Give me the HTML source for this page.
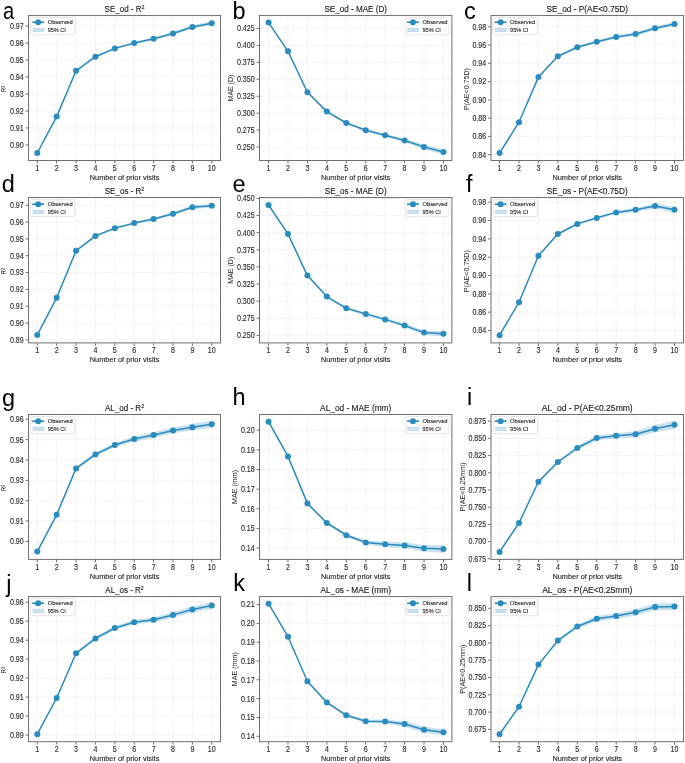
<!DOCTYPE html>
<html><head><meta charset="utf-8"><title>Figure</title><style>
html,body{margin:0;padding:0;background:#fff;}
body{width:685px;height:763px;overflow:hidden;}
svg{display:block;will-change:transform;}
text{font-family:"Liberation Sans",sans-serif;fill:#262626;}
.tk{font-size:7.1px;stroke:#262626;stroke-width:0.1px;}
.ti{font-size:8.1px;fill:#1a1a1a;stroke:#1a1a1a;stroke-width:0.12px;}
.xl{font-size:7.3px;fill:#1a1a1a;stroke:#1a1a1a;stroke-width:0.1px;}
.yl{font-size:7.0px;fill:#222;}
.lg{font-size:5.9px;fill:#111;stroke:#111;stroke-width:0.08px;}
.pl{font-size:23.5px;fill:#000;}
</style></head>
<body>
<svg width="685" height="763" viewBox="0 0 685 763">
<g>
<rect width="685" height="763" fill="#fff"/>
<clipPath id="c0"><rect x="28.55" y="15.55" width="191.95" height="144.95"/></clipPath>
<path d="M37.27 15.55V160.5 M56.66 15.55V160.5 M76.05 15.55V160.5 M95.44 15.55V160.5 M114.83 15.55V160.5 M134.22 15.55V160.5 M153.61 15.55V160.5 M173 15.55V160.5 M192.39 15.55V160.5 M211.77 15.55V160.5 M28.55 144.91H220.5 M28.55 127.93H220.5 M28.55 110.95H220.5 M28.55 93.97H220.5 M28.55 76.99H220.5 M28.55 60.01H220.5 M28.55 43.03H220.5 M28.55 26.05H220.5" stroke="#eeeeee" stroke-width="0.9" stroke-dasharray="2.1 0.8" fill="none" clip-path="url(#c0)"/>
<polygon points="37.27,152.4 56.66,115.8 76.05,70 95.44,55.8 114.83,47.3 134.22,41.9 153.61,37.4 173,32 192.39,25.3 211.77,21.3 211.77,25.1 192.39,28.7 173,35 153.61,40.2 134.22,44.3 114.83,49.5 95.44,57.6 76.05,71.6 56.66,117.4 37.27,153.6" fill="#2a8bbf" fill-opacity="0.25" clip-path="url(#c0)"/>
<polyline points="37.27,153 56.66,116.6 76.05,70.8 95.44,56.7 114.83,48.4 134.22,43.1 153.61,38.8 173,33.5 192.39,27 211.77,23.2" fill="none" stroke="#2a8bbf" stroke-width="1.5" stroke-linejoin="round" stroke-linecap="round"/>
<circle cx="37.27" cy="153" r="3.0" fill="#2a8bbf"/>
<circle cx="56.66" cy="116.6" r="3.0" fill="#2a8bbf"/>
<circle cx="76.05" cy="70.8" r="3.0" fill="#2a8bbf"/>
<circle cx="95.44" cy="56.7" r="3.0" fill="#2a8bbf"/>
<circle cx="114.83" cy="48.4" r="3.0" fill="#2a8bbf"/>
<circle cx="134.22" cy="43.1" r="3.0" fill="#2a8bbf"/>
<circle cx="153.61" cy="38.8" r="3.0" fill="#2a8bbf"/>
<circle cx="173" cy="33.5" r="3.0" fill="#2a8bbf"/>
<circle cx="192.39" cy="27" r="3.0" fill="#2a8bbf"/>
<circle cx="211.77" cy="23.2" r="3.0" fill="#2a8bbf"/>
<rect x="28.55" y="15.55" width="191.95" height="144.95" fill="none" stroke="#6f6f6f" stroke-width="1"/>
<path d="M37.27 161v2.4 M56.66 161v2.4 M76.05 161v2.4 M95.44 161v2.4 M114.83 161v2.4 M134.22 161v2.4 M153.61 161v2.4 M173 161v2.4 M192.39 161v2.4 M211.77 161v2.4 M28.05 144.91h-2.4 M28.05 127.93h-2.4 M28.05 110.95h-2.4 M28.05 93.97h-2.4 M28.05 76.99h-2.4 M28.05 60.01h-2.4 M28.05 43.03h-2.4 M28.05 26.05h-2.4" stroke="#444" stroke-width="0.8" fill="none"/>
<text transform="translate(37.27 170.6) scale(1 1.17)" class="tk" text-anchor="middle">1</text>
<text transform="translate(56.66 170.6) scale(1 1.17)" class="tk" text-anchor="middle">2</text>
<text transform="translate(76.05 170.6) scale(1 1.17)" class="tk" text-anchor="middle">3</text>
<text transform="translate(95.44 170.6) scale(1 1.17)" class="tk" text-anchor="middle">4</text>
<text transform="translate(114.83 170.6) scale(1 1.17)" class="tk" text-anchor="middle">5</text>
<text transform="translate(134.22 170.6) scale(1 1.17)" class="tk" text-anchor="middle">6</text>
<text transform="translate(153.61 170.6) scale(1 1.17)" class="tk" text-anchor="middle">7</text>
<text transform="translate(173 170.6) scale(1 1.17)" class="tk" text-anchor="middle">8</text>
<text transform="translate(192.39 170.6) scale(1 1.17)" class="tk" text-anchor="middle">9</text>
<text transform="translate(211.77 170.6) scale(1 1.17)" class="tk" text-anchor="middle">10</text>
<text transform="translate(23.75 147.76) scale(1 1.17)" class="tk" text-anchor="end">0.90</text>
<text transform="translate(23.75 130.78) scale(1 1.17)" class="tk" text-anchor="end">0.91</text>
<text transform="translate(23.75 113.8) scale(1 1.17)" class="tk" text-anchor="end">0.92</text>
<text transform="translate(23.75 96.82) scale(1 1.17)" class="tk" text-anchor="end">0.93</text>
<text transform="translate(23.75 79.84) scale(1 1.17)" class="tk" text-anchor="end">0.94</text>
<text transform="translate(23.75 62.86) scale(1 1.17)" class="tk" text-anchor="end">0.95</text>
<text transform="translate(23.75 45.88) scale(1 1.17)" class="tk" text-anchor="end">0.96</text>
<text transform="translate(23.75 28.9) scale(1 1.17)" class="tk" text-anchor="end">0.97</text>
<text transform="translate(124.53 11.85) scale(1 1.1)" class="ti" text-anchor="middle" textLength="40" lengthAdjust="spacingAndGlyphs">SE_od - R<tspan font-size="66%" baseline-shift="42%">2</tspan></text>
<text x="124.53" y="179.7" class="xl" text-anchor="middle" textLength="69.6" lengthAdjust="spacingAndGlyphs">Number of prior visits</text>
<rect x="30.65" y="17.65" width="44.3" height="17" rx="1.6" fill="#fff" fill-opacity="1" stroke="#dadada" stroke-width="0.7"/>
<path d="M32.25 22.25H44.05" stroke="#2a8bbf" stroke-width="1.7"/>
<circle cx="38.15" cy="22.25" r="2.95" fill="#2a8bbf"/>
<rect x="32.95" y="28.05" width="10.9" height="3.9" fill="#2a8bbf" fill-opacity="0.25" stroke="#2a8bbf" stroke-opacity="0.25" stroke-width="0.4"/>
<text x="47.65" y="24.35" class="lg" textLength="25.1" lengthAdjust="spacingAndGlyphs">Observed</text>
<text x="47.65" y="32.35" class="lg" textLength="18.2" lengthAdjust="spacingAndGlyphs">95% CI</text>
<clipPath id="c1"><rect x="259.5" y="15.55" width="192.4" height="144.95"/></clipPath>
<path d="M268.55 15.55V160.5 M287.98 15.55V160.5 M307.41 15.55V160.5 M326.85 15.55V160.5 M346.28 15.55V160.5 M365.72 15.55V160.5 M385.15 15.55V160.5 M404.59 15.55V160.5 M424.02 15.55V160.5 M443.45 15.55V160.5 M259.5 147.01H451.9 M259.5 130.08H451.9 M259.5 113.15H451.9 M259.5 96.22H451.9 M259.5 79.29H451.9 M259.5 62.36H451.9 M259.5 45.43H451.9 M259.5 28.5H451.9" stroke="#eeeeee" stroke-width="0.9" stroke-dasharray="2.1 0.8" fill="none" clip-path="url(#c1)"/>
<polygon points="268.55,22 287.98,50.4 307.41,91.4 326.85,110.6 346.28,121.9 365.72,129 385.15,133.8 404.59,138.7 424.02,144.6 443.45,149.2 443.45,154.6 424.02,149.2 404.59,142.3 385.15,136.8 365.72,131.6 346.28,124.1 326.85,112.6 307.41,93.2 287.98,52 268.55,23.2" fill="#2a8bbf" fill-opacity="0.25" clip-path="url(#c1)"/>
<polyline points="268.55,22.6 287.98,51.2 307.41,92.3 326.85,111.6 346.28,123 365.72,130.3 385.15,135.3 404.59,140.5 424.02,146.9 443.45,151.9" fill="none" stroke="#2a8bbf" stroke-width="1.5" stroke-linejoin="round" stroke-linecap="round"/>
<circle cx="268.55" cy="22.6" r="3.0" fill="#2a8bbf"/>
<circle cx="287.98" cy="51.2" r="3.0" fill="#2a8bbf"/>
<circle cx="307.41" cy="92.3" r="3.0" fill="#2a8bbf"/>
<circle cx="326.85" cy="111.6" r="3.0" fill="#2a8bbf"/>
<circle cx="346.28" cy="123" r="3.0" fill="#2a8bbf"/>
<circle cx="365.72" cy="130.3" r="3.0" fill="#2a8bbf"/>
<circle cx="385.15" cy="135.3" r="3.0" fill="#2a8bbf"/>
<circle cx="404.59" cy="140.5" r="3.0" fill="#2a8bbf"/>
<circle cx="424.02" cy="146.9" r="3.0" fill="#2a8bbf"/>
<circle cx="443.45" cy="151.9" r="3.0" fill="#2a8bbf"/>
<rect x="259.5" y="15.55" width="192.4" height="144.95" fill="none" stroke="#6f6f6f" stroke-width="1"/>
<path d="M268.55 161v2.4 M287.98 161v2.4 M307.41 161v2.4 M326.85 161v2.4 M346.28 161v2.4 M365.72 161v2.4 M385.15 161v2.4 M404.59 161v2.4 M424.02 161v2.4 M443.45 161v2.4 M259 147.01h-2.4 M259 130.08h-2.4 M259 113.15h-2.4 M259 96.22h-2.4 M259 79.29h-2.4 M259 62.36h-2.4 M259 45.43h-2.4 M259 28.5h-2.4" stroke="#444" stroke-width="0.8" fill="none"/>
<text transform="translate(268.55 170.6) scale(1 1.17)" class="tk" text-anchor="middle">1</text>
<text transform="translate(287.98 170.6) scale(1 1.17)" class="tk" text-anchor="middle">2</text>
<text transform="translate(307.41 170.6) scale(1 1.17)" class="tk" text-anchor="middle">3</text>
<text transform="translate(326.85 170.6) scale(1 1.17)" class="tk" text-anchor="middle">4</text>
<text transform="translate(346.28 170.6) scale(1 1.17)" class="tk" text-anchor="middle">5</text>
<text transform="translate(365.72 170.6) scale(1 1.17)" class="tk" text-anchor="middle">6</text>
<text transform="translate(385.15 170.6) scale(1 1.17)" class="tk" text-anchor="middle">7</text>
<text transform="translate(404.59 170.6) scale(1 1.17)" class="tk" text-anchor="middle">8</text>
<text transform="translate(424.02 170.6) scale(1 1.17)" class="tk" text-anchor="middle">9</text>
<text transform="translate(443.45 170.6) scale(1 1.17)" class="tk" text-anchor="middle">10</text>
<text transform="translate(254.7 149.86) scale(1 1.17)" class="tk" text-anchor="end">0.250</text>
<text transform="translate(254.7 132.93) scale(1 1.17)" class="tk" text-anchor="end">0.275</text>
<text transform="translate(254.7 116) scale(1 1.17)" class="tk" text-anchor="end">0.300</text>
<text transform="translate(254.7 99.07) scale(1 1.17)" class="tk" text-anchor="end">0.325</text>
<text transform="translate(254.7 82.14) scale(1 1.17)" class="tk" text-anchor="end">0.350</text>
<text transform="translate(254.7 65.21) scale(1 1.17)" class="tk" text-anchor="end">0.375</text>
<text transform="translate(254.7 48.28) scale(1 1.17)" class="tk" text-anchor="end">0.400</text>
<text transform="translate(254.7 31.35) scale(1 1.17)" class="tk" text-anchor="end">0.425</text>
<text transform="translate(355.7 11.85) scale(1 1.1)" class="ti" text-anchor="middle" textLength="62.6" lengthAdjust="spacingAndGlyphs">SE_od - MAE (D)</text>
<text x="355.7" y="179.7" class="xl" text-anchor="middle" textLength="69.6" lengthAdjust="spacingAndGlyphs">Number of prior visits</text>
<rect x="406.1" y="17.65" width="43.1" height="17" rx="1.6" fill="#fff" fill-opacity="1" stroke="#dadada" stroke-width="0.7"/>
<path d="M407.1 22.25H418.9" stroke="#2a8bbf" stroke-width="1.7"/>
<circle cx="413" cy="22.25" r="2.95" fill="#2a8bbf"/>
<rect x="407.8" y="28.05" width="10.9" height="3.9" fill="#2a8bbf" fill-opacity="0.25" stroke="#2a8bbf" stroke-opacity="0.25" stroke-width="0.4"/>
<text x="422.5" y="24.35" class="lg" textLength="25.1" lengthAdjust="spacingAndGlyphs">Observed</text>
<text x="422.5" y="32.35" class="lg" textLength="18.2" lengthAdjust="spacingAndGlyphs">95% CI</text>
<clipPath id="c2"><rect x="491" y="15.55" width="192.45" height="144.95"/></clipPath>
<path d="M499.55 15.55V160.5 M518.99 15.55V160.5 M538.43 15.55V160.5 M557.87 15.55V160.5 M577.31 15.55V160.5 M596.74 15.55V160.5 M616.18 15.55V160.5 M635.62 15.55V160.5 M655.06 15.55V160.5 M674.5 15.55V160.5 M491 154.69H683.45 M491 136.42H683.45 M491 118.15H683.45 M491 99.88H683.45 M491 81.61H683.45 M491 63.34H683.45 M491 45.07H683.45 M491 26.8H683.45" stroke="#eeeeee" stroke-width="0.9" stroke-dasharray="2.1 0.8" fill="none" clip-path="url(#c2)"/>
<polygon points="499.55,152.5 518.99,121.4 538.43,76.2 557.87,55.2 577.31,46.1 596.74,40.4 616.18,35.3 635.62,32.1 655.06,26.3 674.5,21.9 674.5,25.9 655.06,30.1 635.62,35.9 616.18,38.5 596.74,43.2 577.31,48.5 557.87,57.2 538.43,78 518.99,123 499.55,153.7" fill="#2a8bbf" fill-opacity="0.25" clip-path="url(#c2)"/>
<polyline points="499.55,153.1 518.99,122.2 538.43,77.1 557.87,56.2 577.31,47.3 596.74,41.8 616.18,36.9 635.62,34 655.06,28.2 674.5,23.9" fill="none" stroke="#2a8bbf" stroke-width="1.5" stroke-linejoin="round" stroke-linecap="round"/>
<circle cx="499.55" cy="153.1" r="3.0" fill="#2a8bbf"/>
<circle cx="518.99" cy="122.2" r="3.0" fill="#2a8bbf"/>
<circle cx="538.43" cy="77.1" r="3.0" fill="#2a8bbf"/>
<circle cx="557.87" cy="56.2" r="3.0" fill="#2a8bbf"/>
<circle cx="577.31" cy="47.3" r="3.0" fill="#2a8bbf"/>
<circle cx="596.74" cy="41.8" r="3.0" fill="#2a8bbf"/>
<circle cx="616.18" cy="36.9" r="3.0" fill="#2a8bbf"/>
<circle cx="635.62" cy="34" r="3.0" fill="#2a8bbf"/>
<circle cx="655.06" cy="28.2" r="3.0" fill="#2a8bbf"/>
<circle cx="674.5" cy="23.9" r="3.0" fill="#2a8bbf"/>
<rect x="491" y="15.55" width="192.45" height="144.95" fill="none" stroke="#6f6f6f" stroke-width="1"/>
<path d="M499.55 161v2.4 M518.99 161v2.4 M538.43 161v2.4 M557.87 161v2.4 M577.31 161v2.4 M596.74 161v2.4 M616.18 161v2.4 M635.62 161v2.4 M655.06 161v2.4 M674.5 161v2.4 M490.5 154.69h-2.4 M490.5 136.42h-2.4 M490.5 118.15h-2.4 M490.5 99.88h-2.4 M490.5 81.61h-2.4 M490.5 63.34h-2.4 M490.5 45.07h-2.4 M490.5 26.8h-2.4" stroke="#444" stroke-width="0.8" fill="none"/>
<text transform="translate(499.55 170.6) scale(1 1.17)" class="tk" text-anchor="middle">1</text>
<text transform="translate(518.99 170.6) scale(1 1.17)" class="tk" text-anchor="middle">2</text>
<text transform="translate(538.43 170.6) scale(1 1.17)" class="tk" text-anchor="middle">3</text>
<text transform="translate(557.87 170.6) scale(1 1.17)" class="tk" text-anchor="middle">4</text>
<text transform="translate(577.31 170.6) scale(1 1.17)" class="tk" text-anchor="middle">5</text>
<text transform="translate(596.74 170.6) scale(1 1.17)" class="tk" text-anchor="middle">6</text>
<text transform="translate(616.18 170.6) scale(1 1.17)" class="tk" text-anchor="middle">7</text>
<text transform="translate(635.62 170.6) scale(1 1.17)" class="tk" text-anchor="middle">8</text>
<text transform="translate(655.06 170.6) scale(1 1.17)" class="tk" text-anchor="middle">9</text>
<text transform="translate(674.5 170.6) scale(1 1.17)" class="tk" text-anchor="middle">10</text>
<text transform="translate(486.2 157.54) scale(1 1.17)" class="tk" text-anchor="end">0.84</text>
<text transform="translate(486.2 139.27) scale(1 1.17)" class="tk" text-anchor="end">0.86</text>
<text transform="translate(486.2 121) scale(1 1.17)" class="tk" text-anchor="end">0.88</text>
<text transform="translate(486.2 102.73) scale(1 1.17)" class="tk" text-anchor="end">0.90</text>
<text transform="translate(486.2 84.46) scale(1 1.17)" class="tk" text-anchor="end">0.92</text>
<text transform="translate(486.2 66.19) scale(1 1.17)" class="tk" text-anchor="end">0.94</text>
<text transform="translate(486.2 47.92) scale(1 1.17)" class="tk" text-anchor="end">0.96</text>
<text transform="translate(486.2 29.65) scale(1 1.17)" class="tk" text-anchor="end">0.98</text>
<text transform="translate(587.23 11.85) scale(1 1.1)" class="ti" text-anchor="middle" textLength="81.6" lengthAdjust="spacingAndGlyphs">SE_od - P(AE&lt;0.75D)</text>
<text x="587.23" y="179.7" class="xl" text-anchor="middle" textLength="69.6" lengthAdjust="spacingAndGlyphs">Number of prior visits</text>
<rect x="493.1" y="17.65" width="44.3" height="17" rx="1.6" fill="#fff" fill-opacity="1" stroke="#dadada" stroke-width="0.7"/>
<path d="M494.7 22.25H506.5" stroke="#2a8bbf" stroke-width="1.7"/>
<circle cx="500.6" cy="22.25" r="2.95" fill="#2a8bbf"/>
<rect x="495.4" y="28.05" width="10.9" height="3.9" fill="#2a8bbf" fill-opacity="0.25" stroke="#2a8bbf" stroke-opacity="0.25" stroke-width="0.4"/>
<text x="510.1" y="24.35" class="lg" textLength="25.1" lengthAdjust="spacingAndGlyphs">Observed</text>
<text x="510.1" y="32.35" class="lg" textLength="18.2" lengthAdjust="spacingAndGlyphs">95% CI</text>
<clipPath id="c3"><rect x="28.55" y="197.52" width="191.95" height="145.38"/></clipPath>
<path d="M37.27 197.52V342.9 M56.66 197.52V342.9 M76.05 197.52V342.9 M95.44 197.52V342.9 M114.83 197.52V342.9 M134.22 197.52V342.9 M153.61 197.52V342.9 M173 197.52V342.9 M192.39 197.52V342.9 M211.77 197.52V342.9 M28.55 339.78H220.5 M28.55 322.97H220.5 M28.55 306.16H220.5 M28.55 289.35H220.5 M28.55 272.54H220.5 M28.55 255.73H220.5 M28.55 238.92H220.5 M28.55 222.11H220.5 M28.55 205.3H220.5" stroke="#eeeeee" stroke-width="0.9" stroke-dasharray="2.1 0.8" fill="none" clip-path="url(#c3)"/>
<polygon points="37.27,334.3 56.66,297 76.05,250 95.44,234.9 114.83,227.3 134.22,221.9 153.61,217.7 173,212.2 192.39,205.6 211.77,203.9 211.77,207.7 192.39,209 173,215.2 153.61,220.3 134.22,224.3 114.83,229.3 95.44,236.9 76.05,251.6 56.66,298.6 37.27,335.5" fill="#2a8bbf" fill-opacity="0.25" clip-path="url(#c3)"/>
<polyline points="37.27,334.9 56.66,297.8 76.05,250.8 95.44,235.9 114.83,228.3 134.22,223.1 153.61,219 173,213.7 192.39,207.3 211.77,205.8" fill="none" stroke="#2a8bbf" stroke-width="1.5" stroke-linejoin="round" stroke-linecap="round"/>
<circle cx="37.27" cy="334.9" r="3.0" fill="#2a8bbf"/>
<circle cx="56.66" cy="297.8" r="3.0" fill="#2a8bbf"/>
<circle cx="76.05" cy="250.8" r="3.0" fill="#2a8bbf"/>
<circle cx="95.44" cy="235.9" r="3.0" fill="#2a8bbf"/>
<circle cx="114.83" cy="228.3" r="3.0" fill="#2a8bbf"/>
<circle cx="134.22" cy="223.1" r="3.0" fill="#2a8bbf"/>
<circle cx="153.61" cy="219" r="3.0" fill="#2a8bbf"/>
<circle cx="173" cy="213.7" r="3.0" fill="#2a8bbf"/>
<circle cx="192.39" cy="207.3" r="3.0" fill="#2a8bbf"/>
<circle cx="211.77" cy="205.8" r="3.0" fill="#2a8bbf"/>
<rect x="28.55" y="197.52" width="191.95" height="145.38" fill="none" stroke="#6f6f6f" stroke-width="1"/>
<path d="M37.27 343.4v2.4 M56.66 343.4v2.4 M76.05 343.4v2.4 M95.44 343.4v2.4 M114.83 343.4v2.4 M134.22 343.4v2.4 M153.61 343.4v2.4 M173 343.4v2.4 M192.39 343.4v2.4 M211.77 343.4v2.4 M28.05 339.78h-2.4 M28.05 322.97h-2.4 M28.05 306.16h-2.4 M28.05 289.35h-2.4 M28.05 272.54h-2.4 M28.05 255.73h-2.4 M28.05 238.92h-2.4 M28.05 222.11h-2.4 M28.05 205.3h-2.4" stroke="#444" stroke-width="0.8" fill="none"/>
<text transform="translate(37.27 353) scale(1 1.17)" class="tk" text-anchor="middle">1</text>
<text transform="translate(56.66 353) scale(1 1.17)" class="tk" text-anchor="middle">2</text>
<text transform="translate(76.05 353) scale(1 1.17)" class="tk" text-anchor="middle">3</text>
<text transform="translate(95.44 353) scale(1 1.17)" class="tk" text-anchor="middle">4</text>
<text transform="translate(114.83 353) scale(1 1.17)" class="tk" text-anchor="middle">5</text>
<text transform="translate(134.22 353) scale(1 1.17)" class="tk" text-anchor="middle">6</text>
<text transform="translate(153.61 353) scale(1 1.17)" class="tk" text-anchor="middle">7</text>
<text transform="translate(173 353) scale(1 1.17)" class="tk" text-anchor="middle">8</text>
<text transform="translate(192.39 353) scale(1 1.17)" class="tk" text-anchor="middle">9</text>
<text transform="translate(211.77 353) scale(1 1.17)" class="tk" text-anchor="middle">10</text>
<text transform="translate(23.75 342.63) scale(1 1.17)" class="tk" text-anchor="end">0.89</text>
<text transform="translate(23.75 325.82) scale(1 1.17)" class="tk" text-anchor="end">0.90</text>
<text transform="translate(23.75 309.01) scale(1 1.17)" class="tk" text-anchor="end">0.91</text>
<text transform="translate(23.75 292.2) scale(1 1.17)" class="tk" text-anchor="end">0.92</text>
<text transform="translate(23.75 275.39) scale(1 1.17)" class="tk" text-anchor="end">0.93</text>
<text transform="translate(23.75 258.58) scale(1 1.17)" class="tk" text-anchor="end">0.94</text>
<text transform="translate(23.75 241.77) scale(1 1.17)" class="tk" text-anchor="end">0.95</text>
<text transform="translate(23.75 224.96) scale(1 1.17)" class="tk" text-anchor="end">0.96</text>
<text transform="translate(23.75 208.15) scale(1 1.17)" class="tk" text-anchor="end">0.97</text>
<text transform="translate(124.53 193.82) scale(1 1.1)" class="ti" text-anchor="middle" textLength="39.6" lengthAdjust="spacingAndGlyphs">SE_os - R<tspan font-size="66%" baseline-shift="42%">2</tspan></text>
<text x="124.53" y="362.1" class="xl" text-anchor="middle" textLength="69.6" lengthAdjust="spacingAndGlyphs">Number of prior visits</text>
<rect x="30.65" y="199.62" width="44.3" height="17" rx="1.6" fill="#fff" fill-opacity="1" stroke="#dadada" stroke-width="0.7"/>
<path d="M32.25 204.22H44.05" stroke="#2a8bbf" stroke-width="1.7"/>
<circle cx="38.15" cy="204.22" r="2.95" fill="#2a8bbf"/>
<rect x="32.95" y="210.02" width="10.9" height="3.9" fill="#2a8bbf" fill-opacity="0.25" stroke="#2a8bbf" stroke-opacity="0.25" stroke-width="0.4"/>
<text x="47.65" y="206.32" class="lg" textLength="25.1" lengthAdjust="spacingAndGlyphs">Observed</text>
<text x="47.65" y="214.32" class="lg" textLength="18.2" lengthAdjust="spacingAndGlyphs">95% CI</text>
<clipPath id="c4"><rect x="259.5" y="197.52" width="192.4" height="145.38"/></clipPath>
<path d="M268.55 197.52V342.9 M287.98 197.52V342.9 M307.41 197.52V342.9 M326.85 197.52V342.9 M346.28 197.52V342.9 M365.72 197.52V342.9 M385.15 197.52V342.9 M404.59 197.52V342.9 M424.02 197.52V342.9 M443.45 197.52V342.9 M259.5 335.4H451.9 M259.5 318.27H451.9 M259.5 301.15H451.9 M259.5 284.02H451.9 M259.5 266.9H451.9 M259.5 249.78H451.9 M259.5 232.65H451.9 M259.5 215.53H451.9 M259.5 198.4H451.9" stroke="#eeeeee" stroke-width="0.9" stroke-dasharray="2.1 0.8" fill="none" clip-path="url(#c4)"/>
<polygon points="268.55,204.4 287.98,233.1 307.41,274.6 326.85,295.5 346.28,307 365.72,312.4 385.15,317.7 404.59,323.6 424.02,330.3 443.45,331.2 443.45,336.2 424.02,334.9 404.59,327.6 385.15,321.1 365.72,315.4 346.28,309.6 326.85,297.7 307.41,276.6 287.98,234.7 268.55,205.6" fill="#2a8bbf" fill-opacity="0.25" clip-path="url(#c4)"/>
<polyline points="268.55,205 287.98,233.9 307.41,275.6 326.85,296.6 346.28,308.3 365.72,313.9 385.15,319.4 404.59,325.6 424.02,332.6 443.45,333.7" fill="none" stroke="#2a8bbf" stroke-width="1.5" stroke-linejoin="round" stroke-linecap="round"/>
<circle cx="268.55" cy="205" r="3.0" fill="#2a8bbf"/>
<circle cx="287.98" cy="233.9" r="3.0" fill="#2a8bbf"/>
<circle cx="307.41" cy="275.6" r="3.0" fill="#2a8bbf"/>
<circle cx="326.85" cy="296.6" r="3.0" fill="#2a8bbf"/>
<circle cx="346.28" cy="308.3" r="3.0" fill="#2a8bbf"/>
<circle cx="365.72" cy="313.9" r="3.0" fill="#2a8bbf"/>
<circle cx="385.15" cy="319.4" r="3.0" fill="#2a8bbf"/>
<circle cx="404.59" cy="325.6" r="3.0" fill="#2a8bbf"/>
<circle cx="424.02" cy="332.6" r="3.0" fill="#2a8bbf"/>
<circle cx="443.45" cy="333.7" r="3.0" fill="#2a8bbf"/>
<rect x="259.5" y="197.52" width="192.4" height="145.38" fill="none" stroke="#6f6f6f" stroke-width="1"/>
<path d="M268.55 343.4v2.4 M287.98 343.4v2.4 M307.41 343.4v2.4 M326.85 343.4v2.4 M346.28 343.4v2.4 M365.72 343.4v2.4 M385.15 343.4v2.4 M404.59 343.4v2.4 M424.02 343.4v2.4 M443.45 343.4v2.4 M259 335.4h-2.4 M259 318.27h-2.4 M259 301.15h-2.4 M259 284.02h-2.4 M259 266.9h-2.4 M259 249.78h-2.4 M259 232.65h-2.4 M259 215.53h-2.4 M259 198.4h-2.4" stroke="#444" stroke-width="0.8" fill="none"/>
<text transform="translate(268.55 353) scale(1 1.17)" class="tk" text-anchor="middle">1</text>
<text transform="translate(287.98 353) scale(1 1.17)" class="tk" text-anchor="middle">2</text>
<text transform="translate(307.41 353) scale(1 1.17)" class="tk" text-anchor="middle">3</text>
<text transform="translate(326.85 353) scale(1 1.17)" class="tk" text-anchor="middle">4</text>
<text transform="translate(346.28 353) scale(1 1.17)" class="tk" text-anchor="middle">5</text>
<text transform="translate(365.72 353) scale(1 1.17)" class="tk" text-anchor="middle">6</text>
<text transform="translate(385.15 353) scale(1 1.17)" class="tk" text-anchor="middle">7</text>
<text transform="translate(404.59 353) scale(1 1.17)" class="tk" text-anchor="middle">8</text>
<text transform="translate(424.02 353) scale(1 1.17)" class="tk" text-anchor="middle">9</text>
<text transform="translate(443.45 353) scale(1 1.17)" class="tk" text-anchor="middle">10</text>
<text transform="translate(254.7 338.25) scale(1 1.17)" class="tk" text-anchor="end">0.250</text>
<text transform="translate(254.7 321.12) scale(1 1.17)" class="tk" text-anchor="end">0.275</text>
<text transform="translate(254.7 304) scale(1 1.17)" class="tk" text-anchor="end">0.300</text>
<text transform="translate(254.7 286.88) scale(1 1.17)" class="tk" text-anchor="end">0.325</text>
<text transform="translate(254.7 269.75) scale(1 1.17)" class="tk" text-anchor="end">0.350</text>
<text transform="translate(254.7 252.62) scale(1 1.17)" class="tk" text-anchor="end">0.375</text>
<text transform="translate(254.7 235.5) scale(1 1.17)" class="tk" text-anchor="end">0.400</text>
<text transform="translate(254.7 218.38) scale(1 1.17)" class="tk" text-anchor="end">0.425</text>
<text transform="translate(254.7 201.25) scale(1 1.17)" class="tk" text-anchor="end">0.450</text>
<text transform="translate(355.7 193.82) scale(1 1.1)" class="ti" text-anchor="middle" textLength="61.8" lengthAdjust="spacingAndGlyphs">SE_os - MAE (D)</text>
<text x="355.7" y="362.1" class="xl" text-anchor="middle" textLength="69.6" lengthAdjust="spacingAndGlyphs">Number of prior visits</text>
<rect x="406.1" y="199.62" width="43.1" height="17" rx="1.6" fill="#fff" fill-opacity="1" stroke="#dadada" stroke-width="0.7"/>
<path d="M407.1 204.22H418.9" stroke="#2a8bbf" stroke-width="1.7"/>
<circle cx="413" cy="204.22" r="2.95" fill="#2a8bbf"/>
<rect x="407.8" y="210.02" width="10.9" height="3.9" fill="#2a8bbf" fill-opacity="0.25" stroke="#2a8bbf" stroke-opacity="0.25" stroke-width="0.4"/>
<text x="422.5" y="206.32" class="lg" textLength="25.1" lengthAdjust="spacingAndGlyphs">Observed</text>
<text x="422.5" y="214.32" class="lg" textLength="18.2" lengthAdjust="spacingAndGlyphs">95% CI</text>
<clipPath id="c5"><rect x="491" y="197.52" width="192.45" height="145.38"/></clipPath>
<path d="M499.55 197.52V342.9 M518.99 197.52V342.9 M538.43 197.52V342.9 M557.87 197.52V342.9 M577.31 197.52V342.9 M596.74 197.52V342.9 M616.18 197.52V342.9 M635.62 197.52V342.9 M655.06 197.52V342.9 M674.5 197.52V342.9 M491 330.51H683.45 M491 312.18H683.45 M491 293.85H683.45 M491 275.52H683.45 M491 257.19H683.45 M491 238.86H683.45 M491 220.53H683.45 M491 202.2H683.45" stroke="#eeeeee" stroke-width="0.9" stroke-dasharray="2.1 0.8" fill="none" clip-path="url(#c5)"/>
<polygon points="499.55,334.6 518.99,301.5 538.43,254.8 557.87,233 577.31,222.7 596.74,216.5 616.18,210.8 635.62,207.9 655.06,203.4 674.5,206.8 674.5,212.8 655.06,208.6 635.62,211.7 616.18,214 596.74,219.3 577.31,225.1 557.87,235 538.43,256.6 518.99,303.1 499.55,335.8" fill="#2a8bbf" fill-opacity="0.25" clip-path="url(#c5)"/>
<polyline points="499.55,335.2 518.99,302.3 538.43,255.7 557.87,234 577.31,223.9 596.74,217.9 616.18,212.4 635.62,209.8 655.06,206 674.5,209.8" fill="none" stroke="#2a8bbf" stroke-width="1.5" stroke-linejoin="round" stroke-linecap="round"/>
<circle cx="499.55" cy="335.2" r="3.0" fill="#2a8bbf"/>
<circle cx="518.99" cy="302.3" r="3.0" fill="#2a8bbf"/>
<circle cx="538.43" cy="255.7" r="3.0" fill="#2a8bbf"/>
<circle cx="557.87" cy="234" r="3.0" fill="#2a8bbf"/>
<circle cx="577.31" cy="223.9" r="3.0" fill="#2a8bbf"/>
<circle cx="596.74" cy="217.9" r="3.0" fill="#2a8bbf"/>
<circle cx="616.18" cy="212.4" r="3.0" fill="#2a8bbf"/>
<circle cx="635.62" cy="209.8" r="3.0" fill="#2a8bbf"/>
<circle cx="655.06" cy="206" r="3.0" fill="#2a8bbf"/>
<circle cx="674.5" cy="209.8" r="3.0" fill="#2a8bbf"/>
<rect x="491" y="197.52" width="192.45" height="145.38" fill="none" stroke="#6f6f6f" stroke-width="1"/>
<path d="M499.55 343.4v2.4 M518.99 343.4v2.4 M538.43 343.4v2.4 M557.87 343.4v2.4 M577.31 343.4v2.4 M596.74 343.4v2.4 M616.18 343.4v2.4 M635.62 343.4v2.4 M655.06 343.4v2.4 M674.5 343.4v2.4 M490.5 330.51h-2.4 M490.5 312.18h-2.4 M490.5 293.85h-2.4 M490.5 275.52h-2.4 M490.5 257.19h-2.4 M490.5 238.86h-2.4 M490.5 220.53h-2.4 M490.5 202.2h-2.4" stroke="#444" stroke-width="0.8" fill="none"/>
<text transform="translate(499.55 353) scale(1 1.17)" class="tk" text-anchor="middle">1</text>
<text transform="translate(518.99 353) scale(1 1.17)" class="tk" text-anchor="middle">2</text>
<text transform="translate(538.43 353) scale(1 1.17)" class="tk" text-anchor="middle">3</text>
<text transform="translate(557.87 353) scale(1 1.17)" class="tk" text-anchor="middle">4</text>
<text transform="translate(577.31 353) scale(1 1.17)" class="tk" text-anchor="middle">5</text>
<text transform="translate(596.74 353) scale(1 1.17)" class="tk" text-anchor="middle">6</text>
<text transform="translate(616.18 353) scale(1 1.17)" class="tk" text-anchor="middle">7</text>
<text transform="translate(635.62 353) scale(1 1.17)" class="tk" text-anchor="middle">8</text>
<text transform="translate(655.06 353) scale(1 1.17)" class="tk" text-anchor="middle">9</text>
<text transform="translate(674.5 353) scale(1 1.17)" class="tk" text-anchor="middle">10</text>
<text transform="translate(486.2 333.36) scale(1 1.17)" class="tk" text-anchor="end">0.84</text>
<text transform="translate(486.2 315.03) scale(1 1.17)" class="tk" text-anchor="end">0.86</text>
<text transform="translate(486.2 296.7) scale(1 1.17)" class="tk" text-anchor="end">0.88</text>
<text transform="translate(486.2 278.37) scale(1 1.17)" class="tk" text-anchor="end">0.90</text>
<text transform="translate(486.2 260.04) scale(1 1.17)" class="tk" text-anchor="end">0.92</text>
<text transform="translate(486.2 241.71) scale(1 1.17)" class="tk" text-anchor="end">0.94</text>
<text transform="translate(486.2 223.38) scale(1 1.17)" class="tk" text-anchor="end">0.96</text>
<text transform="translate(486.2 205.05) scale(1 1.17)" class="tk" text-anchor="end">0.98</text>
<text transform="translate(587.23 193.82) scale(1 1.1)" class="ti" text-anchor="middle" textLength="80.8" lengthAdjust="spacingAndGlyphs">SE_os - P(AE&lt;0.75D)</text>
<text x="587.23" y="362.1" class="xl" text-anchor="middle" textLength="69.6" lengthAdjust="spacingAndGlyphs">Number of prior visits</text>
<rect x="493.1" y="199.62" width="44.3" height="17" rx="1.6" fill="#fff" fill-opacity="1" stroke="#dadada" stroke-width="0.7"/>
<path d="M494.7 204.22H506.5" stroke="#2a8bbf" stroke-width="1.7"/>
<circle cx="500.6" cy="204.22" r="2.95" fill="#2a8bbf"/>
<rect x="495.4" y="210.02" width="10.9" height="3.9" fill="#2a8bbf" fill-opacity="0.25" stroke="#2a8bbf" stroke-opacity="0.25" stroke-width="0.4"/>
<text x="510.1" y="206.32" class="lg" textLength="25.1" lengthAdjust="spacingAndGlyphs">Observed</text>
<text x="510.1" y="214.32" class="lg" textLength="18.2" lengthAdjust="spacingAndGlyphs">95% CI</text>
<clipPath id="c6"><rect x="28.55" y="414.48" width="191.95" height="144.92"/></clipPath>
<path d="M37.27 414.48V559.4 M56.66 414.48V559.4 M76.05 414.48V559.4 M95.44 414.48V559.4 M114.83 414.48V559.4 M134.22 414.48V559.4 M153.61 414.48V559.4 M173 414.48V559.4 M192.39 414.48V559.4 M211.77 414.48V559.4 M28.55 541.4H220.5 M28.55 521.05H220.5 M28.55 500.7H220.5 M28.55 480.35H220.5 M28.55 460H220.5 M28.55 439.65H220.5 M28.55 419.3H220.5" stroke="#eeeeee" stroke-width="0.9" stroke-dasharray="2.1 0.8" fill="none" clip-path="url(#c6)"/>
<polygon points="37.27,550.8 56.66,513.8 76.05,467.1 95.44,452.6 114.83,442.7 134.22,436.5 153.61,432 173,427.5 192.39,423.8 211.77,420.5 211.77,428.1 192.39,430.6 173,433.3 153.61,438 134.22,441.5 114.83,447.3 95.44,456.2 76.05,469.7 56.66,515.8 37.27,552.4" fill="#2a8bbf" fill-opacity="0.25" clip-path="url(#c6)"/>
<polyline points="37.27,551.6 56.66,514.8 76.05,468.4 95.44,454.4 114.83,445 134.22,439 153.61,435 173,430.4 192.39,427.2 211.77,424.3" fill="none" stroke="#2a8bbf" stroke-width="1.5" stroke-linejoin="round" stroke-linecap="round"/>
<circle cx="37.27" cy="551.6" r="3.0" fill="#2a8bbf"/>
<circle cx="56.66" cy="514.8" r="3.0" fill="#2a8bbf"/>
<circle cx="76.05" cy="468.4" r="3.0" fill="#2a8bbf"/>
<circle cx="95.44" cy="454.4" r="3.0" fill="#2a8bbf"/>
<circle cx="114.83" cy="445" r="3.0" fill="#2a8bbf"/>
<circle cx="134.22" cy="439" r="3.0" fill="#2a8bbf"/>
<circle cx="153.61" cy="435" r="3.0" fill="#2a8bbf"/>
<circle cx="173" cy="430.4" r="3.0" fill="#2a8bbf"/>
<circle cx="192.39" cy="427.2" r="3.0" fill="#2a8bbf"/>
<circle cx="211.77" cy="424.3" r="3.0" fill="#2a8bbf"/>
<rect x="28.55" y="414.48" width="191.95" height="144.92" fill="none" stroke="#6f6f6f" stroke-width="1"/>
<path d="M37.27 559.9v2.4 M56.66 559.9v2.4 M76.05 559.9v2.4 M95.44 559.9v2.4 M114.83 559.9v2.4 M134.22 559.9v2.4 M153.61 559.9v2.4 M173 559.9v2.4 M192.39 559.9v2.4 M211.77 559.9v2.4 M28.05 541.4h-2.4 M28.05 521.05h-2.4 M28.05 500.7h-2.4 M28.05 480.35h-2.4 M28.05 460h-2.4 M28.05 439.65h-2.4 M28.05 419.3h-2.4" stroke="#444" stroke-width="0.8" fill="none"/>
<text transform="translate(37.27 569.5) scale(1 1.17)" class="tk" text-anchor="middle">1</text>
<text transform="translate(56.66 569.5) scale(1 1.17)" class="tk" text-anchor="middle">2</text>
<text transform="translate(76.05 569.5) scale(1 1.17)" class="tk" text-anchor="middle">3</text>
<text transform="translate(95.44 569.5) scale(1 1.17)" class="tk" text-anchor="middle">4</text>
<text transform="translate(114.83 569.5) scale(1 1.17)" class="tk" text-anchor="middle">5</text>
<text transform="translate(134.22 569.5) scale(1 1.17)" class="tk" text-anchor="middle">6</text>
<text transform="translate(153.61 569.5) scale(1 1.17)" class="tk" text-anchor="middle">7</text>
<text transform="translate(173 569.5) scale(1 1.17)" class="tk" text-anchor="middle">8</text>
<text transform="translate(192.39 569.5) scale(1 1.17)" class="tk" text-anchor="middle">9</text>
<text transform="translate(211.77 569.5) scale(1 1.17)" class="tk" text-anchor="middle">10</text>
<text transform="translate(23.75 544.25) scale(1 1.17)" class="tk" text-anchor="end">0.90</text>
<text transform="translate(23.75 523.9) scale(1 1.17)" class="tk" text-anchor="end">0.91</text>
<text transform="translate(23.75 503.55) scale(1 1.17)" class="tk" text-anchor="end">0.92</text>
<text transform="translate(23.75 483.2) scale(1 1.17)" class="tk" text-anchor="end">0.93</text>
<text transform="translate(23.75 462.85) scale(1 1.17)" class="tk" text-anchor="end">0.94</text>
<text transform="translate(23.75 442.5) scale(1 1.17)" class="tk" text-anchor="end">0.95</text>
<text transform="translate(23.75 422.15) scale(1 1.17)" class="tk" text-anchor="end">0.96</text>
<text transform="translate(124.53 410.78) scale(1 1.1)" class="ti" text-anchor="middle" textLength="39.2" lengthAdjust="spacingAndGlyphs">AL_od - R<tspan font-size="66%" baseline-shift="42%">2</tspan></text>
<text x="124.53" y="578.6" class="xl" text-anchor="middle" textLength="69.6" lengthAdjust="spacingAndGlyphs">Number of prior visits</text>
<rect x="30.65" y="416.58" width="44.3" height="17" rx="1.6" fill="#fff" fill-opacity="1" stroke="#dadada" stroke-width="0.7"/>
<path d="M32.25 421.18H44.05" stroke="#2a8bbf" stroke-width="1.7"/>
<circle cx="38.15" cy="421.18" r="2.95" fill="#2a8bbf"/>
<rect x="32.95" y="426.98" width="10.9" height="3.9" fill="#2a8bbf" fill-opacity="0.25" stroke="#2a8bbf" stroke-opacity="0.25" stroke-width="0.4"/>
<text x="47.65" y="423.28" class="lg" textLength="25.1" lengthAdjust="spacingAndGlyphs">Observed</text>
<text x="47.65" y="431.28" class="lg" textLength="18.2" lengthAdjust="spacingAndGlyphs">95% CI</text>
<clipPath id="c7"><rect x="259.5" y="414.48" width="192.4" height="144.92"/></clipPath>
<path d="M268.55 414.48V559.4 M287.98 414.48V559.4 M307.41 414.48V559.4 M326.85 414.48V559.4 M346.28 414.48V559.4 M365.72 414.48V559.4 M385.15 414.48V559.4 M404.59 414.48V559.4 M424.02 414.48V559.4 M443.45 414.48V559.4 M259.5 548.1H451.9 M259.5 528.45H451.9 M259.5 508.8H451.9 M259.5 489.15H451.9 M259.5 469.5H451.9 M259.5 449.85H451.9 M259.5 430.2H451.9" stroke="#eeeeee" stroke-width="0.9" stroke-dasharray="2.1 0.8" fill="none" clip-path="url(#c7)"/>
<polygon points="268.55,421.1 287.98,455.6 307.41,502.4 326.85,521.8 346.28,533.6 365.72,540.3 385.15,541.5 404.59,542.6 424.02,545 443.45,545.3 443.45,552.9 424.02,551.6 404.59,548.2 385.15,546.9 365.72,544.5 346.28,536.8 326.85,524.2 307.41,504.4 287.98,457.2 268.55,422.3" fill="#2a8bbf" fill-opacity="0.25" clip-path="url(#c7)"/>
<polyline points="268.55,421.7 287.98,456.4 307.41,503.4 326.85,523 346.28,535.2 365.72,542.4 385.15,544.2 404.59,545.4 424.02,548.3 443.45,549.1" fill="none" stroke="#2a8bbf" stroke-width="1.5" stroke-linejoin="round" stroke-linecap="round"/>
<circle cx="268.55" cy="421.7" r="3.0" fill="#2a8bbf"/>
<circle cx="287.98" cy="456.4" r="3.0" fill="#2a8bbf"/>
<circle cx="307.41" cy="503.4" r="3.0" fill="#2a8bbf"/>
<circle cx="326.85" cy="523" r="3.0" fill="#2a8bbf"/>
<circle cx="346.28" cy="535.2" r="3.0" fill="#2a8bbf"/>
<circle cx="365.72" cy="542.4" r="3.0" fill="#2a8bbf"/>
<circle cx="385.15" cy="544.2" r="3.0" fill="#2a8bbf"/>
<circle cx="404.59" cy="545.4" r="3.0" fill="#2a8bbf"/>
<circle cx="424.02" cy="548.3" r="3.0" fill="#2a8bbf"/>
<circle cx="443.45" cy="549.1" r="3.0" fill="#2a8bbf"/>
<rect x="259.5" y="414.48" width="192.4" height="144.92" fill="none" stroke="#6f6f6f" stroke-width="1"/>
<path d="M268.55 559.9v2.4 M287.98 559.9v2.4 M307.41 559.9v2.4 M326.85 559.9v2.4 M346.28 559.9v2.4 M365.72 559.9v2.4 M385.15 559.9v2.4 M404.59 559.9v2.4 M424.02 559.9v2.4 M443.45 559.9v2.4 M259 548.1h-2.4 M259 528.45h-2.4 M259 508.8h-2.4 M259 489.15h-2.4 M259 469.5h-2.4 M259 449.85h-2.4 M259 430.2h-2.4" stroke="#444" stroke-width="0.8" fill="none"/>
<text transform="translate(268.55 569.5) scale(1 1.17)" class="tk" text-anchor="middle">1</text>
<text transform="translate(287.98 569.5) scale(1 1.17)" class="tk" text-anchor="middle">2</text>
<text transform="translate(307.41 569.5) scale(1 1.17)" class="tk" text-anchor="middle">3</text>
<text transform="translate(326.85 569.5) scale(1 1.17)" class="tk" text-anchor="middle">4</text>
<text transform="translate(346.28 569.5) scale(1 1.17)" class="tk" text-anchor="middle">5</text>
<text transform="translate(365.72 569.5) scale(1 1.17)" class="tk" text-anchor="middle">6</text>
<text transform="translate(385.15 569.5) scale(1 1.17)" class="tk" text-anchor="middle">7</text>
<text transform="translate(404.59 569.5) scale(1 1.17)" class="tk" text-anchor="middle">8</text>
<text transform="translate(424.02 569.5) scale(1 1.17)" class="tk" text-anchor="middle">9</text>
<text transform="translate(443.45 569.5) scale(1 1.17)" class="tk" text-anchor="middle">10</text>
<text transform="translate(254.7 550.95) scale(1 1.17)" class="tk" text-anchor="end">0.14</text>
<text transform="translate(254.7 531.3) scale(1 1.17)" class="tk" text-anchor="end">0.15</text>
<text transform="translate(254.7 511.65) scale(1 1.17)" class="tk" text-anchor="end">0.16</text>
<text transform="translate(254.7 492) scale(1 1.17)" class="tk" text-anchor="end">0.17</text>
<text transform="translate(254.7 472.35) scale(1 1.17)" class="tk" text-anchor="end">0.18</text>
<text transform="translate(254.7 452.7) scale(1 1.17)" class="tk" text-anchor="end">0.19</text>
<text transform="translate(254.7 433.05) scale(1 1.17)" class="tk" text-anchor="end">0.20</text>
<text transform="translate(355.7 410.78) scale(1 1.1)" class="ti" text-anchor="middle" textLength="71.2" lengthAdjust="spacingAndGlyphs">AL_od - MAE (mm)</text>
<text x="355.7" y="578.6" class="xl" text-anchor="middle" textLength="69.6" lengthAdjust="spacingAndGlyphs">Number of prior visits</text>
<rect x="406.1" y="416.58" width="43.1" height="17" rx="1.6" fill="#fff" fill-opacity="1" stroke="#dadada" stroke-width="0.7"/>
<path d="M407.1 421.18H418.9" stroke="#2a8bbf" stroke-width="1.7"/>
<circle cx="413" cy="421.18" r="2.95" fill="#2a8bbf"/>
<rect x="407.8" y="426.98" width="10.9" height="3.9" fill="#2a8bbf" fill-opacity="0.25" stroke="#2a8bbf" stroke-opacity="0.25" stroke-width="0.4"/>
<text x="422.5" y="423.28" class="lg" textLength="25.1" lengthAdjust="spacingAndGlyphs">Observed</text>
<text x="422.5" y="431.28" class="lg" textLength="18.2" lengthAdjust="spacingAndGlyphs">95% CI</text>
<clipPath id="c8"><rect x="491" y="414.48" width="192.45" height="144.92"/></clipPath>
<path d="M499.55 414.48V559.4 M518.99 414.48V559.4 M538.43 414.48V559.4 M557.87 414.48V559.4 M577.31 414.48V559.4 M596.74 414.48V559.4 M616.18 414.48V559.4 M635.62 414.48V559.4 M655.06 414.48V559.4 M674.5 414.48V559.4 M491 558.8H683.45 M491 541.6H683.45 M491 524.4H683.45 M491 507.2H683.45 M491 490H683.45 M491 472.8H683.45 M491 455.6H683.45 M491 438.4H683.45 M491 421.2H683.45" stroke="#eeeeee" stroke-width="0.9" stroke-dasharray="2.1 0.8" fill="none" clip-path="url(#c8)"/>
<polygon points="499.55,551.1 518.99,522 538.43,480.5 557.87,460.4 577.31,446 596.74,435.2 616.18,433.2 635.62,431.2 655.06,425.1 674.5,420.4 674.5,429 655.06,432.3 635.62,437.2 616.18,438.4 596.74,440.6 577.31,450 557.87,463.6 538.43,482.9 518.99,524 499.55,552.7" fill="#2a8bbf" fill-opacity="0.25" clip-path="url(#c8)"/>
<polyline points="499.55,551.9 518.99,523 538.43,481.7 557.87,462 577.31,448 596.74,437.9 616.18,435.8 635.62,434.2 655.06,428.7 674.5,424.7" fill="none" stroke="#2a8bbf" stroke-width="1.5" stroke-linejoin="round" stroke-linecap="round"/>
<circle cx="499.55" cy="551.9" r="3.0" fill="#2a8bbf"/>
<circle cx="518.99" cy="523" r="3.0" fill="#2a8bbf"/>
<circle cx="538.43" cy="481.7" r="3.0" fill="#2a8bbf"/>
<circle cx="557.87" cy="462" r="3.0" fill="#2a8bbf"/>
<circle cx="577.31" cy="448" r="3.0" fill="#2a8bbf"/>
<circle cx="596.74" cy="437.9" r="3.0" fill="#2a8bbf"/>
<circle cx="616.18" cy="435.8" r="3.0" fill="#2a8bbf"/>
<circle cx="635.62" cy="434.2" r="3.0" fill="#2a8bbf"/>
<circle cx="655.06" cy="428.7" r="3.0" fill="#2a8bbf"/>
<circle cx="674.5" cy="424.7" r="3.0" fill="#2a8bbf"/>
<rect x="491" y="414.48" width="192.45" height="144.92" fill="none" stroke="#6f6f6f" stroke-width="1"/>
<path d="M499.55 559.9v2.4 M518.99 559.9v2.4 M538.43 559.9v2.4 M557.87 559.9v2.4 M577.31 559.9v2.4 M596.74 559.9v2.4 M616.18 559.9v2.4 M635.62 559.9v2.4 M655.06 559.9v2.4 M674.5 559.9v2.4 M490.5 558.8h-2.4 M490.5 541.6h-2.4 M490.5 524.4h-2.4 M490.5 507.2h-2.4 M490.5 490h-2.4 M490.5 472.8h-2.4 M490.5 455.6h-2.4 M490.5 438.4h-2.4 M490.5 421.2h-2.4" stroke="#444" stroke-width="0.8" fill="none"/>
<text transform="translate(499.55 569.5) scale(1 1.17)" class="tk" text-anchor="middle">1</text>
<text transform="translate(518.99 569.5) scale(1 1.17)" class="tk" text-anchor="middle">2</text>
<text transform="translate(538.43 569.5) scale(1 1.17)" class="tk" text-anchor="middle">3</text>
<text transform="translate(557.87 569.5) scale(1 1.17)" class="tk" text-anchor="middle">4</text>
<text transform="translate(577.31 569.5) scale(1 1.17)" class="tk" text-anchor="middle">5</text>
<text transform="translate(596.74 569.5) scale(1 1.17)" class="tk" text-anchor="middle">6</text>
<text transform="translate(616.18 569.5) scale(1 1.17)" class="tk" text-anchor="middle">7</text>
<text transform="translate(635.62 569.5) scale(1 1.17)" class="tk" text-anchor="middle">8</text>
<text transform="translate(655.06 569.5) scale(1 1.17)" class="tk" text-anchor="middle">9</text>
<text transform="translate(674.5 569.5) scale(1 1.17)" class="tk" text-anchor="middle">10</text>
<text transform="translate(486.2 561.65) scale(1 1.17)" class="tk" text-anchor="end">0.675</text>
<text transform="translate(486.2 544.45) scale(1 1.17)" class="tk" text-anchor="end">0.700</text>
<text transform="translate(486.2 527.25) scale(1 1.17)" class="tk" text-anchor="end">0.725</text>
<text transform="translate(486.2 510.05) scale(1 1.17)" class="tk" text-anchor="end">0.750</text>
<text transform="translate(486.2 492.85) scale(1 1.17)" class="tk" text-anchor="end">0.775</text>
<text transform="translate(486.2 475.65) scale(1 1.17)" class="tk" text-anchor="end">0.800</text>
<text transform="translate(486.2 458.45) scale(1 1.17)" class="tk" text-anchor="end">0.825</text>
<text transform="translate(486.2 441.25) scale(1 1.17)" class="tk" text-anchor="end">0.850</text>
<text transform="translate(486.2 424.05) scale(1 1.17)" class="tk" text-anchor="end">0.875</text>
<text transform="translate(587.23 410.78) scale(1 1.1)" class="ti" text-anchor="middle" textLength="91" lengthAdjust="spacingAndGlyphs">AL_od - P(AE&lt;0.25mm)</text>
<text x="587.23" y="578.6" class="xl" text-anchor="middle" textLength="69.6" lengthAdjust="spacingAndGlyphs">Number of prior visits</text>
<rect x="493.1" y="416.58" width="44.3" height="17" rx="1.6" fill="#fff" fill-opacity="1" stroke="#dadada" stroke-width="0.7"/>
<path d="M494.7 421.18H506.5" stroke="#2a8bbf" stroke-width="1.7"/>
<circle cx="500.6" cy="421.18" r="2.95" fill="#2a8bbf"/>
<rect x="495.4" y="426.98" width="10.9" height="3.9" fill="#2a8bbf" fill-opacity="0.25" stroke="#2a8bbf" stroke-opacity="0.25" stroke-width="0.4"/>
<text x="510.1" y="423.28" class="lg" textLength="25.1" lengthAdjust="spacingAndGlyphs">Observed</text>
<text x="510.1" y="431.28" class="lg" textLength="18.2" lengthAdjust="spacingAndGlyphs">95% CI</text>
<clipPath id="c9"><rect x="28.55" y="596.57" width="191.95" height="145.13"/></clipPath>
<path d="M37.27 596.57V741.7 M56.66 596.57V741.7 M76.05 596.57V741.7 M95.44 596.57V741.7 M114.83 596.57V741.7 M134.22 596.57V741.7 M153.61 596.57V741.7 M173 596.57V741.7 M192.39 596.57V741.7 M211.77 596.57V741.7 M28.55 735.06H220.5 M28.55 716.08H220.5 M28.55 697.1H220.5 M28.55 678.12H220.5 M28.55 659.14H220.5 M28.55 640.16H220.5 M28.55 621.18H220.5 M28.55 602.2H220.5" stroke="#eeeeee" stroke-width="0.9" stroke-dasharray="2.1 0.8" fill="none" clip-path="url(#c9)"/>
<polygon points="37.27,733.4 56.66,697 76.05,652 95.44,636.7 114.83,626 134.22,620 153.61,617.2 173,612.1 192.39,606.5 211.77,602.2 211.77,608.8 192.39,612.5 173,617.7 153.61,622.4 134.22,624.6 114.83,630 95.44,640.1 76.05,654.6 56.66,699 37.27,735" fill="#2a8bbf" fill-opacity="0.25" clip-path="url(#c9)"/>
<polyline points="37.27,734.2 56.66,698 76.05,653.3 95.44,638.4 114.83,628 134.22,622.3 153.61,619.8 173,614.9 192.39,609.5 211.77,605.5" fill="none" stroke="#2a8bbf" stroke-width="1.5" stroke-linejoin="round" stroke-linecap="round"/>
<circle cx="37.27" cy="734.2" r="3.0" fill="#2a8bbf"/>
<circle cx="56.66" cy="698" r="3.0" fill="#2a8bbf"/>
<circle cx="76.05" cy="653.3" r="3.0" fill="#2a8bbf"/>
<circle cx="95.44" cy="638.4" r="3.0" fill="#2a8bbf"/>
<circle cx="114.83" cy="628" r="3.0" fill="#2a8bbf"/>
<circle cx="134.22" cy="622.3" r="3.0" fill="#2a8bbf"/>
<circle cx="153.61" cy="619.8" r="3.0" fill="#2a8bbf"/>
<circle cx="173" cy="614.9" r="3.0" fill="#2a8bbf"/>
<circle cx="192.39" cy="609.5" r="3.0" fill="#2a8bbf"/>
<circle cx="211.77" cy="605.5" r="3.0" fill="#2a8bbf"/>
<rect x="28.55" y="596.57" width="191.95" height="145.13" fill="none" stroke="#6f6f6f" stroke-width="1"/>
<path d="M37.27 742.2v2.4 M56.66 742.2v2.4 M76.05 742.2v2.4 M95.44 742.2v2.4 M114.83 742.2v2.4 M134.22 742.2v2.4 M153.61 742.2v2.4 M173 742.2v2.4 M192.39 742.2v2.4 M211.77 742.2v2.4 M28.05 735.06h-2.4 M28.05 716.08h-2.4 M28.05 697.1h-2.4 M28.05 678.12h-2.4 M28.05 659.14h-2.4 M28.05 640.16h-2.4 M28.05 621.18h-2.4 M28.05 602.2h-2.4" stroke="#444" stroke-width="0.8" fill="none"/>
<text transform="translate(37.27 751.8) scale(1 1.17)" class="tk" text-anchor="middle">1</text>
<text transform="translate(56.66 751.8) scale(1 1.17)" class="tk" text-anchor="middle">2</text>
<text transform="translate(76.05 751.8) scale(1 1.17)" class="tk" text-anchor="middle">3</text>
<text transform="translate(95.44 751.8) scale(1 1.17)" class="tk" text-anchor="middle">4</text>
<text transform="translate(114.83 751.8) scale(1 1.17)" class="tk" text-anchor="middle">5</text>
<text transform="translate(134.22 751.8) scale(1 1.17)" class="tk" text-anchor="middle">6</text>
<text transform="translate(153.61 751.8) scale(1 1.17)" class="tk" text-anchor="middle">7</text>
<text transform="translate(173 751.8) scale(1 1.17)" class="tk" text-anchor="middle">8</text>
<text transform="translate(192.39 751.8) scale(1 1.17)" class="tk" text-anchor="middle">9</text>
<text transform="translate(211.77 751.8) scale(1 1.17)" class="tk" text-anchor="middle">10</text>
<text transform="translate(23.75 737.91) scale(1 1.17)" class="tk" text-anchor="end">0.89</text>
<text transform="translate(23.75 718.93) scale(1 1.17)" class="tk" text-anchor="end">0.90</text>
<text transform="translate(23.75 699.95) scale(1 1.17)" class="tk" text-anchor="end">0.91</text>
<text transform="translate(23.75 680.97) scale(1 1.17)" class="tk" text-anchor="end">0.92</text>
<text transform="translate(23.75 661.99) scale(1 1.17)" class="tk" text-anchor="end">0.93</text>
<text transform="translate(23.75 643.01) scale(1 1.17)" class="tk" text-anchor="end">0.94</text>
<text transform="translate(23.75 624.03) scale(1 1.17)" class="tk" text-anchor="end">0.95</text>
<text transform="translate(23.75 605.05) scale(1 1.17)" class="tk" text-anchor="end">0.96</text>
<text transform="translate(124.53 592.87) scale(1 1.1)" class="ti" text-anchor="middle" textLength="38.4" lengthAdjust="spacingAndGlyphs">AL_os - R<tspan font-size="66%" baseline-shift="42%">2</tspan></text>
<text x="124.53" y="760.9" class="xl" text-anchor="middle" textLength="69.6" lengthAdjust="spacingAndGlyphs">Number of prior visits</text>
<rect x="30.65" y="598.67" width="44.3" height="17" rx="1.6" fill="#fff" fill-opacity="1" stroke="#dadada" stroke-width="0.7"/>
<path d="M32.25 603.27H44.05" stroke="#2a8bbf" stroke-width="1.7"/>
<circle cx="38.15" cy="603.27" r="2.95" fill="#2a8bbf"/>
<rect x="32.95" y="609.07" width="10.9" height="3.9" fill="#2a8bbf" fill-opacity="0.25" stroke="#2a8bbf" stroke-opacity="0.25" stroke-width="0.4"/>
<text x="47.65" y="605.37" class="lg" textLength="25.1" lengthAdjust="spacingAndGlyphs">Observed</text>
<text x="47.65" y="613.37" class="lg" textLength="18.2" lengthAdjust="spacingAndGlyphs">95% CI</text>
<clipPath id="c10"><rect x="259.5" y="596.57" width="192.4" height="145.13"/></clipPath>
<path d="M268.55 596.57V741.7 M287.98 596.57V741.7 M307.41 596.57V741.7 M326.85 596.57V741.7 M346.28 596.57V741.7 M365.72 596.57V741.7 M385.15 596.57V741.7 M404.59 596.57V741.7 M424.02 596.57V741.7 M443.45 596.57V741.7 M259.5 736.27H451.9 M259.5 717.46H451.9 M259.5 698.65H451.9 M259.5 679.84H451.9 M259.5 661.03H451.9 M259.5 642.22H451.9 M259.5 623.41H451.9 M259.5 604.6H451.9" stroke="#eeeeee" stroke-width="0.9" stroke-dasharray="2.1 0.8" fill="none" clip-path="url(#c10)"/>
<polygon points="268.55,603.1 287.98,635.9 307.41,680.3 326.85,701.2 346.28,714 365.72,719.4 385.15,719.6 404.59,721.3 424.02,726.5 443.45,729.3 443.45,735.1 424.02,732.9 404.59,726.7 385.15,723.6 365.72,723 346.28,716.6 326.85,703.6 307.41,682.3 287.98,637.5 268.55,604.3" fill="#2a8bbf" fill-opacity="0.25" clip-path="url(#c10)"/>
<polyline points="268.55,603.7 287.98,636.7 307.41,681.3 326.85,702.4 346.28,715.3 365.72,721.2 385.15,721.6 404.59,724 424.02,729.7 443.45,732.2" fill="none" stroke="#2a8bbf" stroke-width="1.5" stroke-linejoin="round" stroke-linecap="round"/>
<circle cx="268.55" cy="603.7" r="3.0" fill="#2a8bbf"/>
<circle cx="287.98" cy="636.7" r="3.0" fill="#2a8bbf"/>
<circle cx="307.41" cy="681.3" r="3.0" fill="#2a8bbf"/>
<circle cx="326.85" cy="702.4" r="3.0" fill="#2a8bbf"/>
<circle cx="346.28" cy="715.3" r="3.0" fill="#2a8bbf"/>
<circle cx="365.72" cy="721.2" r="3.0" fill="#2a8bbf"/>
<circle cx="385.15" cy="721.6" r="3.0" fill="#2a8bbf"/>
<circle cx="404.59" cy="724" r="3.0" fill="#2a8bbf"/>
<circle cx="424.02" cy="729.7" r="3.0" fill="#2a8bbf"/>
<circle cx="443.45" cy="732.2" r="3.0" fill="#2a8bbf"/>
<rect x="259.5" y="596.57" width="192.4" height="145.13" fill="none" stroke="#6f6f6f" stroke-width="1"/>
<path d="M268.55 742.2v2.4 M287.98 742.2v2.4 M307.41 742.2v2.4 M326.85 742.2v2.4 M346.28 742.2v2.4 M365.72 742.2v2.4 M385.15 742.2v2.4 M404.59 742.2v2.4 M424.02 742.2v2.4 M443.45 742.2v2.4 M259 736.27h-2.4 M259 717.46h-2.4 M259 698.65h-2.4 M259 679.84h-2.4 M259 661.03h-2.4 M259 642.22h-2.4 M259 623.41h-2.4 M259 604.6h-2.4" stroke="#444" stroke-width="0.8" fill="none"/>
<text transform="translate(268.55 751.8) scale(1 1.17)" class="tk" text-anchor="middle">1</text>
<text transform="translate(287.98 751.8) scale(1 1.17)" class="tk" text-anchor="middle">2</text>
<text transform="translate(307.41 751.8) scale(1 1.17)" class="tk" text-anchor="middle">3</text>
<text transform="translate(326.85 751.8) scale(1 1.17)" class="tk" text-anchor="middle">4</text>
<text transform="translate(346.28 751.8) scale(1 1.17)" class="tk" text-anchor="middle">5</text>
<text transform="translate(365.72 751.8) scale(1 1.17)" class="tk" text-anchor="middle">6</text>
<text transform="translate(385.15 751.8) scale(1 1.17)" class="tk" text-anchor="middle">7</text>
<text transform="translate(404.59 751.8) scale(1 1.17)" class="tk" text-anchor="middle">8</text>
<text transform="translate(424.02 751.8) scale(1 1.17)" class="tk" text-anchor="middle">9</text>
<text transform="translate(443.45 751.8) scale(1 1.17)" class="tk" text-anchor="middle">10</text>
<text transform="translate(254.7 739.12) scale(1 1.17)" class="tk" text-anchor="end">0.14</text>
<text transform="translate(254.7 720.31) scale(1 1.17)" class="tk" text-anchor="end">0.15</text>
<text transform="translate(254.7 701.5) scale(1 1.17)" class="tk" text-anchor="end">0.16</text>
<text transform="translate(254.7 682.69) scale(1 1.17)" class="tk" text-anchor="end">0.17</text>
<text transform="translate(254.7 663.88) scale(1 1.17)" class="tk" text-anchor="end">0.18</text>
<text transform="translate(254.7 645.07) scale(1 1.17)" class="tk" text-anchor="end">0.19</text>
<text transform="translate(254.7 626.26) scale(1 1.17)" class="tk" text-anchor="end">0.20</text>
<text transform="translate(254.7 607.45) scale(1 1.17)" class="tk" text-anchor="end">0.21</text>
<text transform="translate(355.7 592.87) scale(1 1.1)" class="ti" text-anchor="middle" textLength="70.4" lengthAdjust="spacingAndGlyphs">AL_os - MAE (mm)</text>
<text x="355.7" y="760.9" class="xl" text-anchor="middle" textLength="69.6" lengthAdjust="spacingAndGlyphs">Number of prior visits</text>
<rect x="406.1" y="598.67" width="43.1" height="17" rx="1.6" fill="#fff" fill-opacity="1" stroke="#dadada" stroke-width="0.7"/>
<path d="M407.1 603.27H418.9" stroke="#2a8bbf" stroke-width="1.7"/>
<circle cx="413" cy="603.27" r="2.95" fill="#2a8bbf"/>
<rect x="407.8" y="609.07" width="10.9" height="3.9" fill="#2a8bbf" fill-opacity="0.25" stroke="#2a8bbf" stroke-opacity="0.25" stroke-width="0.4"/>
<text x="422.5" y="605.37" class="lg" textLength="25.1" lengthAdjust="spacingAndGlyphs">Observed</text>
<text x="422.5" y="613.37" class="lg" textLength="18.2" lengthAdjust="spacingAndGlyphs">95% CI</text>
<clipPath id="c11"><rect x="491" y="596.57" width="192.45" height="145.13"/></clipPath>
<path d="M499.55 596.57V741.7 M518.99 596.57V741.7 M538.43 596.57V741.7 M557.87 596.57V741.7 M577.31 596.57V741.7 M596.74 596.57V741.7 M616.18 596.57V741.7 M635.62 596.57V741.7 M655.06 596.57V741.7 M674.5 596.57V741.7 M491 729.4H683.45 M491 712.1H683.45 M491 694.8H683.45 M491 677.5H683.45 M491 660.2H683.45 M491 642.9H683.45 M491 625.6H683.45 M491 608.3H683.45" stroke="#eeeeee" stroke-width="0.9" stroke-dasharray="2.1 0.8" fill="none" clip-path="url(#c11)"/>
<polygon points="499.55,733.4 518.99,705.8 538.43,663.4 557.87,639.2 577.31,624.5 596.74,616.1 616.18,613.2 635.62,609.2 655.06,603.6 674.5,603 674.5,610 655.06,610.2 635.62,615.4 616.18,619 596.74,621.3 577.31,628.5 557.87,642 538.43,665.8 518.99,707.8 499.55,735" fill="#2a8bbf" fill-opacity="0.25" clip-path="url(#c11)"/>
<polyline points="499.55,734.2 518.99,706.8 538.43,664.6 557.87,640.6 577.31,626.5 596.74,618.7 616.18,616.1 635.62,612.3 655.06,606.9 674.5,606.5" fill="none" stroke="#2a8bbf" stroke-width="1.5" stroke-linejoin="round" stroke-linecap="round"/>
<circle cx="499.55" cy="734.2" r="3.0" fill="#2a8bbf"/>
<circle cx="518.99" cy="706.8" r="3.0" fill="#2a8bbf"/>
<circle cx="538.43" cy="664.6" r="3.0" fill="#2a8bbf"/>
<circle cx="557.87" cy="640.6" r="3.0" fill="#2a8bbf"/>
<circle cx="577.31" cy="626.5" r="3.0" fill="#2a8bbf"/>
<circle cx="596.74" cy="618.7" r="3.0" fill="#2a8bbf"/>
<circle cx="616.18" cy="616.1" r="3.0" fill="#2a8bbf"/>
<circle cx="635.62" cy="612.3" r="3.0" fill="#2a8bbf"/>
<circle cx="655.06" cy="606.9" r="3.0" fill="#2a8bbf"/>
<circle cx="674.5" cy="606.5" r="3.0" fill="#2a8bbf"/>
<rect x="491" y="596.57" width="192.45" height="145.13" fill="none" stroke="#6f6f6f" stroke-width="1"/>
<path d="M499.55 742.2v2.4 M518.99 742.2v2.4 M538.43 742.2v2.4 M557.87 742.2v2.4 M577.31 742.2v2.4 M596.74 742.2v2.4 M616.18 742.2v2.4 M635.62 742.2v2.4 M655.06 742.2v2.4 M674.5 742.2v2.4 M490.5 729.4h-2.4 M490.5 712.1h-2.4 M490.5 694.8h-2.4 M490.5 677.5h-2.4 M490.5 660.2h-2.4 M490.5 642.9h-2.4 M490.5 625.6h-2.4 M490.5 608.3h-2.4" stroke="#444" stroke-width="0.8" fill="none"/>
<text transform="translate(499.55 751.8) scale(1 1.17)" class="tk" text-anchor="middle">1</text>
<text transform="translate(518.99 751.8) scale(1 1.17)" class="tk" text-anchor="middle">2</text>
<text transform="translate(538.43 751.8) scale(1 1.17)" class="tk" text-anchor="middle">3</text>
<text transform="translate(557.87 751.8) scale(1 1.17)" class="tk" text-anchor="middle">4</text>
<text transform="translate(577.31 751.8) scale(1 1.17)" class="tk" text-anchor="middle">5</text>
<text transform="translate(596.74 751.8) scale(1 1.17)" class="tk" text-anchor="middle">6</text>
<text transform="translate(616.18 751.8) scale(1 1.17)" class="tk" text-anchor="middle">7</text>
<text transform="translate(635.62 751.8) scale(1 1.17)" class="tk" text-anchor="middle">8</text>
<text transform="translate(655.06 751.8) scale(1 1.17)" class="tk" text-anchor="middle">9</text>
<text transform="translate(674.5 751.8) scale(1 1.17)" class="tk" text-anchor="middle">10</text>
<text transform="translate(486.2 732.25) scale(1 1.17)" class="tk" text-anchor="end">0.675</text>
<text transform="translate(486.2 714.95) scale(1 1.17)" class="tk" text-anchor="end">0.700</text>
<text transform="translate(486.2 697.65) scale(1 1.17)" class="tk" text-anchor="end">0.725</text>
<text transform="translate(486.2 680.35) scale(1 1.17)" class="tk" text-anchor="end">0.750</text>
<text transform="translate(486.2 663.05) scale(1 1.17)" class="tk" text-anchor="end">0.775</text>
<text transform="translate(486.2 645.75) scale(1 1.17)" class="tk" text-anchor="end">0.800</text>
<text transform="translate(486.2 628.45) scale(1 1.17)" class="tk" text-anchor="end">0.825</text>
<text transform="translate(486.2 611.15) scale(1 1.17)" class="tk" text-anchor="end">0.850</text>
<text transform="translate(587.23 592.87) scale(1 1.1)" class="ti" text-anchor="middle" textLength="90.2" lengthAdjust="spacingAndGlyphs">AL_os - P(AE&lt;0.25mm)</text>
<text x="587.23" y="760.9" class="xl" text-anchor="middle" textLength="69.6" lengthAdjust="spacingAndGlyphs">Number of prior visits</text>
<rect x="493.1" y="598.67" width="44.3" height="17" rx="1.6" fill="#fff" fill-opacity="1" stroke="#dadada" stroke-width="0.7"/>
<path d="M494.7 603.27H506.5" stroke="#2a8bbf" stroke-width="1.7"/>
<circle cx="500.6" cy="603.27" r="2.95" fill="#2a8bbf"/>
<rect x="495.4" y="609.07" width="10.9" height="3.9" fill="#2a8bbf" fill-opacity="0.25" stroke="#2a8bbf" stroke-opacity="0.25" stroke-width="0.4"/>
<text x="510.1" y="605.37" class="lg" textLength="25.1" lengthAdjust="spacingAndGlyphs">Observed</text>
<text x="510.1" y="613.37" class="lg" textLength="18.2" lengthAdjust="spacingAndGlyphs">95% CI</text>
<text transform="translate(6.2 89.03) rotate(-90)" x="0" y="0" class="yl" text-anchor="middle" textLength="6.6" lengthAdjust="spacingAndGlyphs">R<tspan font-size="66%" baseline-shift="27%">2</tspan></text>
<text transform="translate(232.7 88.03) rotate(-90)" x="0" y="0" class="yl" text-anchor="middle" textLength="26.9" lengthAdjust="spacingAndGlyphs">MAE (D)</text>
<text transform="translate(469 89.03) rotate(-90)" x="0" y="0" class="yl" text-anchor="middle" textLength="42" lengthAdjust="spacingAndGlyphs">P(AE&lt;0.75D)</text>
<text transform="translate(6.2 271.21) rotate(-90)" x="0" y="0" class="yl" text-anchor="middle" textLength="6.6" lengthAdjust="spacingAndGlyphs">R<tspan font-size="66%" baseline-shift="27%">2</tspan></text>
<text transform="translate(232.7 270.21) rotate(-90)" x="0" y="0" class="yl" text-anchor="middle" textLength="26.9" lengthAdjust="spacingAndGlyphs">MAE (D)</text>
<text transform="translate(469 271.21) rotate(-90)" x="0" y="0" class="yl" text-anchor="middle" textLength="42" lengthAdjust="spacingAndGlyphs">P(AE&lt;0.75D)</text>
<text transform="translate(6.2 487.94) rotate(-90)" x="0" y="0" class="yl" text-anchor="middle" textLength="6.6" lengthAdjust="spacingAndGlyphs">R<tspan font-size="66%" baseline-shift="27%">2</tspan></text>
<text transform="translate(237 486.94) rotate(-90)" x="0" y="0" class="yl" text-anchor="middle" textLength="34.2" lengthAdjust="spacingAndGlyphs">MAE (mm)</text>
<text transform="translate(465.3 486.94) rotate(-90)" x="0" y="0" class="yl" text-anchor="middle" textLength="49.2" lengthAdjust="spacingAndGlyphs">P(AE&lt;0.25mm)</text>
<text transform="translate(6.2 670.13) rotate(-90)" x="0" y="0" class="yl" text-anchor="middle" textLength="6.6" lengthAdjust="spacingAndGlyphs">R<tspan font-size="66%" baseline-shift="27%">2</tspan></text>
<text transform="translate(237 669.13) rotate(-90)" x="0" y="0" class="yl" text-anchor="middle" textLength="34.2" lengthAdjust="spacingAndGlyphs">MAE (mm)</text>
<text transform="translate(465.3 669.13) rotate(-90)" x="0" y="0" class="yl" text-anchor="middle" textLength="49.2" lengthAdjust="spacingAndGlyphs">P(AE&lt;0.25mm)</text>
<text transform="translate(3 18.6) scale(0.86 1)" class="pl">a</text>
<text transform="translate(232.6 18.6) scale(1.0 1)" class="pl">b</text>
<text transform="translate(463.9 18.7) scale(1.0 1)" class="pl">c</text>
<text transform="translate(1.8 191.6) scale(1.0 1)" class="pl">d</text>
<text transform="translate(232.6 191.6) scale(1.0 1)" class="pl">e</text>
<text transform="translate(466 191.6) scale(1.0 1)" class="pl">f</text>
<text transform="translate(2 406.1) scale(1.0 1)" class="pl">g</text>
<text transform="translate(232.6 405.1) scale(1.0 1)" class="pl">h</text>
<text transform="translate(466.9 405.3) scale(1.0 1)" class="pl">i</text>
<text transform="translate(6.2 591.8) scale(1.0 1)" class="pl">j</text>
<text transform="translate(233.2 591.1) scale(1.0 1)" class="pl">k</text>
<text transform="translate(466.7 590.9) scale(1.0 1)" class="pl">l</text>
</g>
</svg>
</body></html>
